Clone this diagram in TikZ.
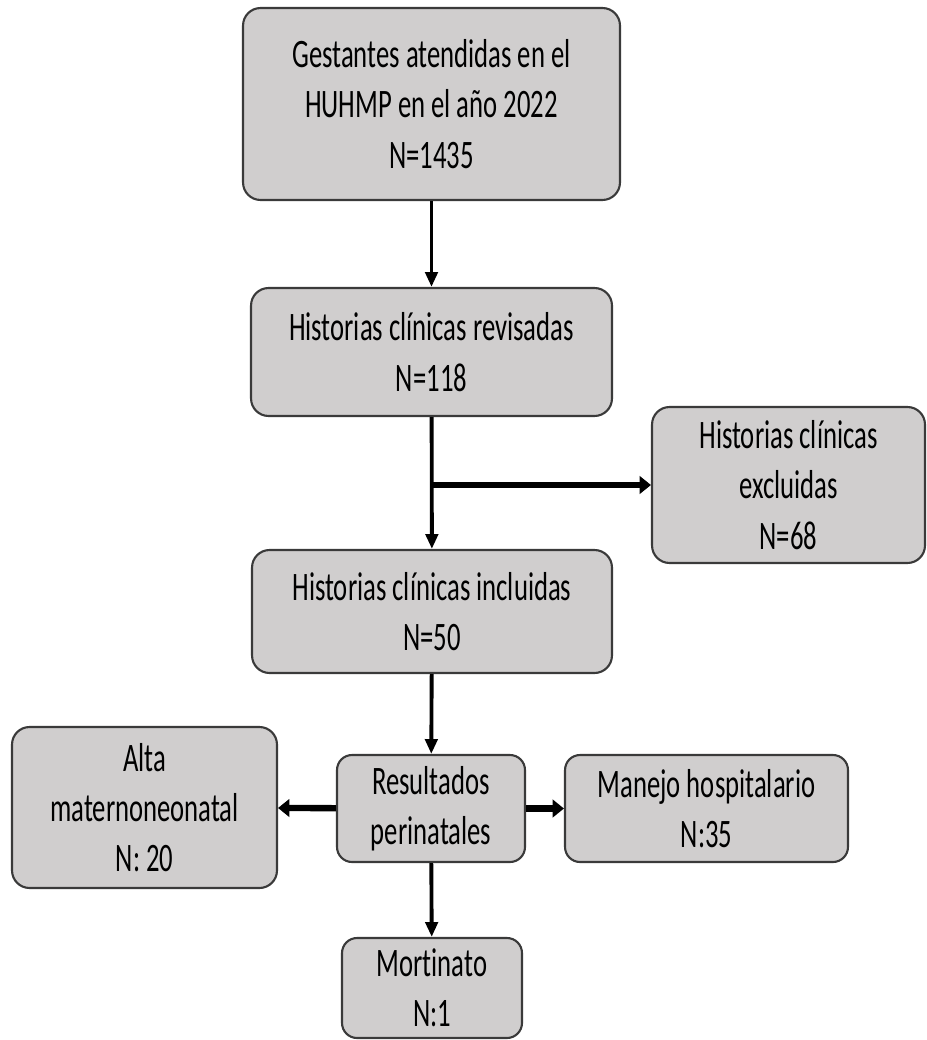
\documentclass[tikz,border=0pt]{standalone}
\usepackage{fontspec}
\setmainfont{Carlito}[FakeStretch=0.66, Ligatures=NoCommon]
\usetikzlibrary{arrows.meta}
\definecolor{boxfill}{HTML}{D0CECE}
\definecolor{boxline}{HTML}{3A3A3A}
\begin{document}
\begin{tikzpicture}[
        x=0.02cm, y=-0.02cm,
        every node/.style={font=\fontsize{23}{28.6}\selectfont},
        box/.style={
            draw=boxline,
            fill=boxfill,
            line width=1.2pt,
            rounded corners=0.35cm,
            align=center,
            inner sep=0pt
        },
        arrow/.style={-{Triangle[length=8.5pt,width=7pt]}, line width=2.2pt},
        thickarrow/.style={-{Triangle[length=6.5pt,width=10pt]}, line width=3.6pt}
    ]

    \useasboundingbox (0,0) rectangle (926,1040);

    % Main flow
    \node[box, minimum width=7.54cm, minimum height=3.84cm] (gest) at (431.5,104)
        {Gestantes atendidas en el\\HUHMP en el año 2022\\N=1435};
    \node[box, minimum width=7.22cm, minimum height=2.56cm] (rev) at (431.5,352)
        {Historias clínicas revisadas\\N=118};
    \node[box, minimum width=7.2cm, minimum height=2.46cm] (inc) at (432,611.5)
        {Historias clínicas incluidas\\N=50};
    \node[box, minimum width=3.76cm, minimum height=2.14cm, rounded corners=0.3cm] (res) at (431,808.5)
        {Resultados\\perinatales};

    % Excluded records
    \node[box, minimum width=5.46cm, minimum height=3.12cm] (exc) at (788.5,485)
        {Historias clínicas\\excluidas\\N=68};

    % Outcomes
    \node[box, minimum width=5.3cm, minimum height=3.22cm] (alta) at (144.5,807.5)
        {Alta\\maternoneonatal\\N: 20};
    \node[box, minimum width=5.66cm, minimum height=2.14cm, rounded corners=0.3cm] (manejo) at (706.5,808.5)
        {Manejo hospitalario\\N:35};
    \node[box, minimum width=3.6cm, minimum height=2.0cm, rounded corners=0.3cm] (mort) at (432,988)
        {Mortinato\\N:1};

    % Arrows
    \draw[arrow] (gest) -- (rev);
    \draw[arrow] (rev) -- (inc);
    \coordinate (split) at (432,485);
    \draw[thickarrow] (split) -- (exc.west);
    \draw[arrow] (inc) -- (res);
    \draw[arrow] (res) -- (mort);
    \draw[thickarrow] (res) -- (alta);
    \draw[thickarrow] (res) -- (manejo);

\end{tikzpicture}
\end{document}
